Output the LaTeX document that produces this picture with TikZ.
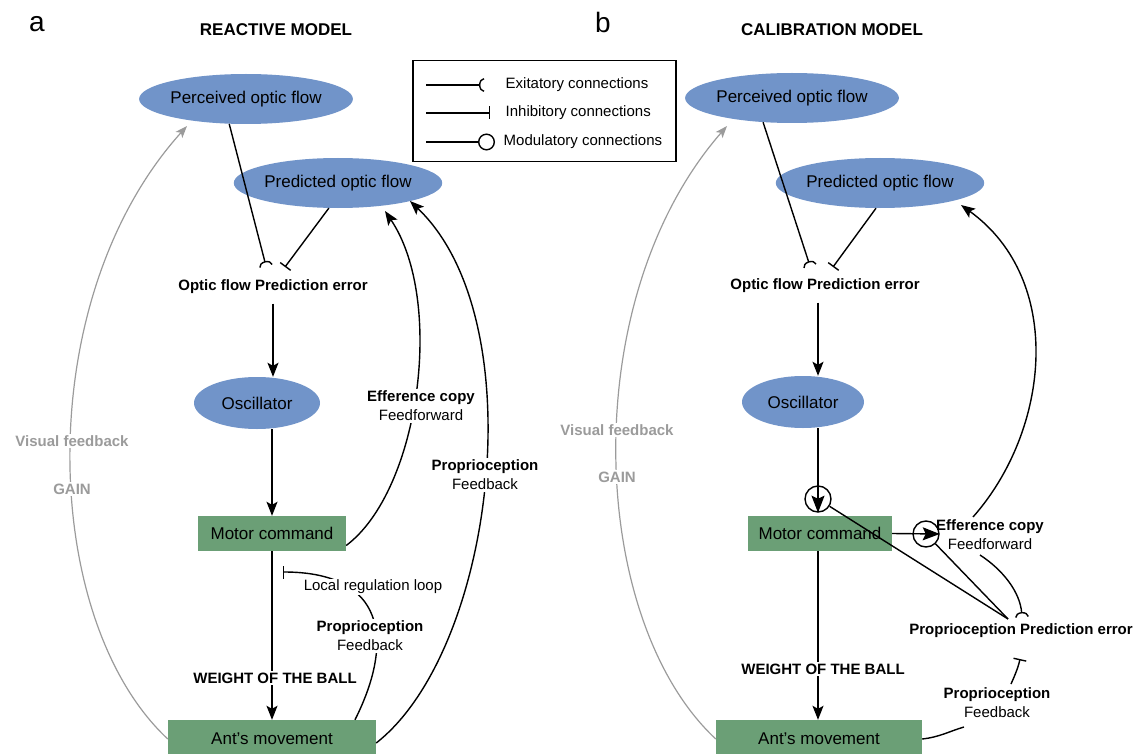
\documentclass[tikz,border=0pt]{standalone}
\usepackage{fontspec}
\setmainfont{Liberation Sans}
\usetikzlibrary{arrows.meta,shapes.geometric}
\definecolor{ellblue}{HTML}{7194C9}
\definecolor{boxgreen}{HTML}{6B9F76}
\definecolor{fbgray}{HTML}{9B9B9B}
\begin{document}
\begin{tikzpicture}[x=1pt,y=-1pt,
  ell/.style={ellipse,fill=ellblue,inner sep=0pt,minimum height=50pt,font=\fontsize{17}{20}\selectfont},
  gbox/.style={rectangle,fill=boxgreen,inner sep=0pt,minimum height=35pt,font=\fontsize{17}{20}\selectfont},
  lab/.style={font=\fontsize{15}{19}\selectfont,align=center,inner sep=1.5pt},
  blab/.style={lab,font=\fontsize{15}{19}\selectfont\bfseries},
  conn/.style={line width=1.4pt,draw=black},
  gconn/.style={line width=1.2pt,draw=fbgray},
  arr/.style={-{Stealth[length=14pt,width=11pt,inset=3pt]}},
  inarr/.style={-{Stealth[length=17pt,width=13pt,inset=3pt]}},
  garr/.style={-{Stealth[length=12pt,width=9pt,inset=3pt]}},
  exc/.style={-{Arc Barb[reversed,length=5pt,width=14pt]}},
  inh/.style={-{Bar[width=13pt]}},
  modc/.style={circle,draw,line width=1.4pt,fill=white,minimum size=26pt,inner sep=0pt},
  ttl/.style={font=\fontsize{17}{20}\selectfont\bfseries},
  panel/.style={font=\fontsize{28}{30}\selectfont},
]
\useasboundingbox (0,0) rectangle (1137,754);

% ---------- Legend ----------
\node[draw,line width=1.2pt,minimum width=263pt,minimum height=101pt,inner sep=0pt] (leg) at (544.5,111) {};
\coordinate (l1a) at (426,85); \coordinate (l1b) at (484,85);
\coordinate (l2a) at (426,113); \coordinate (l2b) at (490,113);
\coordinate (l3a) at (426,142); \coordinate (l3b) at (495,142);
\draw[conn,exc] (l1a) -- (l1b);
\draw[conn,inh] (l2a) -- (l2b);
\draw[conn,-{Circle[open,length=17pt,width=17pt]}] (l3a) -- (l3b);
\node[lab,anchor=west] (lt1) at (504,85) {Exitatory connections};
\node[lab,anchor=west] (lt2) at (504,113) {Inhibitory connections};
\node[lab,anchor=west] (lt3) at (502,142) {Modulatory connections};

% ---------- Panel a ----------
\node[panel] (pa) at (37,24) {a};
\node[ttl] (ta) at (276,30) {REACTIVE MODEL};
\node[ell,minimum width=164pt] (percA) at (246,99) {Perceived optic flow};
\node[ell,minimum width=166pt] (predA) at (338,183) {Predicted optic flow};
\node[blab] (ofeA) at (273,287) {Optic flow Prediction error};
\node[ell,minimum width=126pt,minimum height=52pt] (oscA) at (257,403) {Oscillator};
\node[gbox,minimum width=148pt] (motA) at (272,533.5) {Motor command};
\node[gbox,minimum width=208pt,minimum height=38pt] (antA) at (272,739) {Ant's movement};

\coordinate (ofeAin1) at (266,266);
\coordinate (ofeAin2) at (285,267);
\coordinate (efAtip) at (385,211);
\coordinate (pfAtip) at (410,201);
\coordinate (llA) at (283,572);
\coordinate (vfAtip) at (187,126);

\draw[conn,exc] (percA.236) -- (ofeAin1);
\draw[conn,inh] (predA.250) -- (ofeAin2);
\draw[conn,arr] ([yshift=-8pt]ofeA.south) -- (ofeA.south |- oscA.north);
\draw[conn,arr] (motA.north |- oscA.south) -- (motA.north);
\draw[conn,arr] (motA.south) -- (antA.north);
\draw[conn,arr] ([yshift=-12pt]motA.east) .. controls (420,490) and (445,300) .. (efAtip);
\draw[conn,arr] ([yshift=-4pt]antA.east) .. controls (495,650) and (535,320) .. (pfAtip);
\draw[conn,inh] ([xshift=83pt]antA.north) .. controls (395,640) and (385,572) .. (llA);
\draw[gconn,garr] (antA.west) .. controls (40,620) and (30,300) .. (vfAtip);

\node[lab,fill=white] (efA) at (421,406) {\textbf{Efference copy}\\Feedforward};
\node[lab,fill=white] (pfA) at (485,475) {\textbf{Proprioception}\\Feedback};
\node[lab,fill=white] (llabA) at (373,587) {Local regulation loop};
\node[lab,fill=white] (plA) at (370,636) {\textbf{Proprioception}\\Feedback};
\node[blab,fill=white] (wA) at (275,678) {WEIGHT OF THE BALL};
\node[blab,fill=white,text=fbgray] (vfA) at (72,441) {Visual feedback};
\node[blab,fill=white,text=fbgray] (gA) at (72,489) {GAIN};

% ---------- Panel b ----------
\node[panel] (pb) at (603,22) {b};
\node[ttl] (tb) at (832,30) {CALIBRATION MODEL};
\node[ell,minimum width=164pt] (percB) at (792,98) {Perceived optic flow};
\node[ell,minimum width=166pt] (predB) at (880,183) {Predicted optic flow};
\node[blab] (ofeB) at (825,286) {Optic flow Prediction error};
\node[ell,minimum width=122pt,minimum height=52pt] (oscB) at (803,402) {Oscillator};
\node[gbox,minimum width=144pt] (motB) at (820,533.5) {Motor command};
\node[gbox,minimum width=206pt,minimum height=38pt] (antB) at (819,739) {Ant's movement};
\node[modc] (mod1) at (818,499) {};
\node[modc] (mod2) at (926,534) {};
\node[blab] (ppe) at (1021,631) {Proprioception Prediction error};
\node[lab] (efB) at (990,535) {\textbf{Efference copy}\\Feedforward};
\node[lab] (fbB) at (997,703) {\textbf{Proprioception}\\Feedback};

\coordinate (ofeBin1) at (810,266);
\coordinate (ofeBin2) at (833,267);
\coordinate (ppeIn) at (1008,619);
\coordinate (efTop) at (973,517);
\coordinate (efBtip) at (961,205);
\coordinate (ffB) at (980,555);
\coordinate (ppeIn2) at (1022,617);
\coordinate (fbBtop) at (1011,684);
\coordinate (ppeIn3) at (1020,659);
\coordinate (fbBbot) at (964,727);
\coordinate (vfBtip) at (727,126);

\draw[conn,exc] (percB.220) -- (ofeBin1);
\draw[conn,inh] (predB.261) -- (ofeBin2);
\draw[conn,arr] ([yshift=-8pt]ofeB.south -| mod1.center) -- (mod1 |- oscB.north);
\draw[conn,inarr] (mod1 |- oscB.south) -- (mod1.south);
\draw[conn,inarr] (motB.east) -- (mod2.east);
\draw[conn] (mod1) -- (ppeIn);
\draw[conn] (mod2) -- (ppeIn);
\draw[conn,arr] (mod1 |- motB.south) -- (mod1 |- antB.north);
\draw[conn,arr] (efTop) .. controls (1050,430) and (1065,280) .. (efBtip);
\draw[conn,exc] (ffB) .. controls (1003,570) and (1020,592) .. (ppeIn2);
\draw[conn,inh] (fbBtop) .. controls (1015,675) and (1018,668) .. (ppeIn3);
\draw[conn] (antB.east) .. controls (940,737) and (950,731) .. (fbBbot);
\draw[gconn,garr] (antB.west) .. controls (588,620) and (575,300) .. (vfBtip);

\node[blab,fill=white] (wB) at (823,669) {WEIGHT OF THE BALL};
\node[blab,fill=white,text=fbgray] (vfB) at (617,430) {Visual feedback};
\node[blab,fill=white,text=fbgray] (gB) at (617,477) {GAIN};
\end{tikzpicture}
\end{document}
